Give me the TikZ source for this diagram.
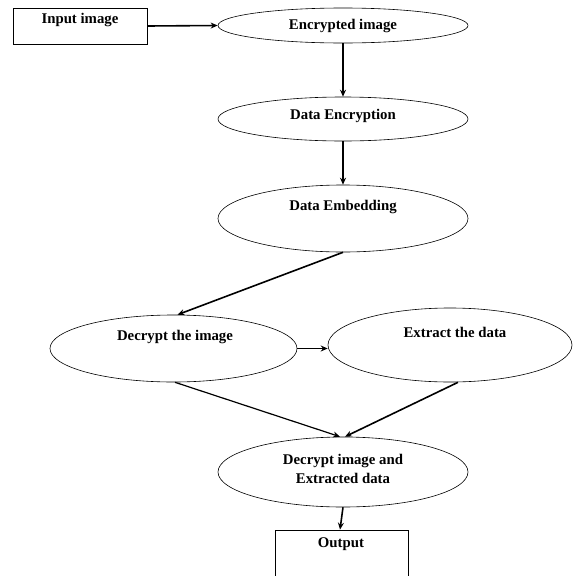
\documentclass[tikz,border=0pt]{standalone}
\usepackage{fontspec}
\setmainfont{Liberation Serif}
\usetikzlibrary{shapes.geometric,arrows.meta}
\begin{document}
\begin{tikzpicture}[x=1pt,y=-1pt,
  oval/.style={draw,ellipse,line width=0.6pt,inner sep=0pt},
  boxshape/.style={draw,rectangle,line width=0.8pt,inner sep=0pt},
  lbl/.style={font=\bfseries\fontsize{14.8}{18}\selectfont,inner sep=0pt,align=center},
  flow/.style={line width=1.6pt,-{Stealth[length=7pt,width=6pt]}},
  flowthin/.style={line width=1.2pt,-{Stealth[length=7pt,width=6pt]}}]
\useasboundingbox (0,0) rectangle (573,576);
\clip (0,0) rectangle (573,576);
% shapes
\node[boxshape,minimum width=134pt,minimum height=36pt] (inp) at (80,26) {};
\node[oval,minimum width=250pt,minimum height=35pt] (enc) at (343,25.5) {};
\node[oval,minimum width=250pt,minimum height=44pt] (den) at (343,119) {};
\node[oval,minimum width=250pt,minimum height=67pt] (emb) at (343,218.5) {};
\node[oval,minimum width=247pt,minimum height=67pt] (dec) at (173.5,348.5) {};
\node[oval,minimum width=244pt,minimum height=74pt] (ext) at (450,345) {};
\node[oval,minimum width=250pt,minimum height=70pt] (fin) at (343,472) {};
\node[boxshape,minimum width=133pt,minimum height=60pt] (out) at (341.5,560) {};
% labels
\node[lbl] at (80,20) {Input image};
\node[lbl] at (343,26) {Encrypted image};
\node[lbl] at (343,116) {Data Encryption};
\node[lbl] at (343,207) {Data Embedding};
\node[lbl] at (175,337) {Decrypt the image};
\node[lbl] at (455,332) {Extract the data};
\node[lbl] at (343,469) {Decrypt image and\\[1pt]Extracted data};
\node[lbl] at (341,544) {Output};
% connectors
\draw[flow] (inp.east) -- (enc.west);
\draw[flow] (enc.south) -- (den.north);
\draw[flow] (den.south) -- (emb.north);
\draw[flow] (emb.south) -- ([xshift=4pt]dec.north);
\draw[flow] (dec.east) -- (dec.east -| ext.west);
\draw[flowthin] ([xshift=1.5pt]dec.south) -- ([xshift=-3pt]fin.north);
\draw[flow] ([xshift=8pt]ext.south) -- ([xshift=2pt]fin.north);
\draw[flow] (fin.south) -- ([xshift=-1.5pt]out.north);
\end{tikzpicture}
\end{document}
